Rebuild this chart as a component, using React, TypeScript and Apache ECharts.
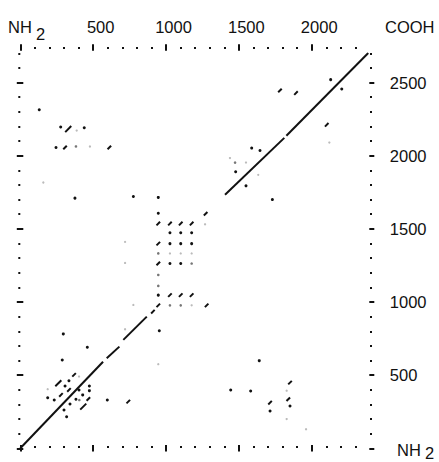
import { useEffect, useRef } from "react";
import * as echarts from "echarts";

// ---- axes / ticks ----
const X_MAX = 2400;
const Y_MAX = 2700;
const xMinorTicks = [0, 100, 200, 300, 400, 500, 600, 700, 800, 900, 1000, 1100, 1200, 1300, 1400, 1500, 1600, 1700, 1800, 1900, 2000, 2100, 2200, 2300];
const xMajorTicks = [0, 500, 1000, 1500, 2000];
const xTickLabels = [500, 1000, 1500, 2000];
const yMinorTicks = [0, 100, 200, 300, 400, 500, 600, 700, 800, 900, 1000, 1100, 1200, 1300, 1400, 1500, 1600, 1700, 1800, 1900, 2000, 2100, 2200, 2300, 2400, 2500, 2600, 2700];
const yMajorTicks = [0, 500, 1000, 1500, 2000, 2500];
const yTickLabels = [500, 1000, 1500, 2000, 2500];

// ---- main diagonal segments [x1, y1, x2, y2] ----
const diagonalSegments = [
  [0, 0, 568, 592],
  [593, 616, 680, 695],
  [707, 741, 868, 900],
  [1405, 1733, 1812, 2122],
  [1826, 2136, 2388, 2702],
];

// ---- short "/" dashes [x, y] ----
const dashes = [
  [910, 934], [947, 977],
  [947, 1536], [1027, 1536], [1101, 1536], [1176, 1536],
  [947, 1399], [947, 1263],
  [1027, 1047], [1101, 1047], [1176, 1047],
  [1272, 1603], [1279, 977], [2103, 2211], [1782, 2446], [1892, 2428],
  [307, 2056], [611, 2056],
  [369, 502], [279, 365], [334, 399], [467, 337], [741, 319],
  [1851, 449], [1714, 312], [1839, 335],
];

// ---- long "/" dashes [x, y] ----
const longDashes = [
  [329, 2182], [261, 445], [432, 285],
];

// ---- black dots [x, y] ----
const dots = [
  [947, 1715], [947, 1607],
  [1027, 1473], [1101, 1473], [1176, 1473],
  [1027, 1399], [1101, 1399], [1176, 1399],
  [1027, 1263], [1101, 1263], [947, 1047],
  [776, 1721], [375, 1710], [954, 804],
  [1549, 1794], [1730, 1700], [1588, 2052], [1645, 2036], [1478, 1890],
  [2130, 2520], [2206, 2456],
  [130, 2314], [277, 2196], [439, 2191], [245, 2056],
  [295, 782], [460, 691], [288, 604],
  [334, 462], [307, 426], [474, 426], [403, 399], [474, 394],
  [188, 346], [233, 330], [382, 335], [428, 365], [341, 303],
  [300, 262], [318, 216], [597, 330],
  [1640, 599], [1444, 399], [1581, 392], [1851, 289], [1714, 255],
];

// ---- medium grey dots [x, y] ----
const greyDots = [
  [947, 1185], [947, 1110], [947, 1332], [1027, 977], [1101, 977], [1176, 1263],
  [1474, 1953], [382, 2063], [405, 330],
];

// ---- faint dots [x, y] ----
const faintDots = [
  [1027, 1332], [1101, 1332], [1176, 1332], [1176, 977],
  [776, 980], [1268, 1531], [719, 1411], [719, 1267], [719, 814], [947, 575],
  [2121, 2090], [1439, 1984], [1549, 1953], [1633, 1869],
  [387, 2172], [478, 2063], [158, 1817], [188, 404], [403, 490],
  [1828, 394], [1828, 200], [1961, 130],
];

const FONT = "Liberation Sans, Arial, Helvetica, sans-serif";
const INK = "#111";

function tickAxis(
  kind: "x" | "y",
  position: string,
  offset: number,
  values: number[],
  length: number,
  labels?: number[],
  labelExtra?: any
) {
  return {
    type: "value",
    min: 0,
    max: kind === "x" ? X_MAX : Y_MAX,
    position,
    offset,
    axisLine: { show: false, onZero: false },
    splitLine: { show: false },
    axisTick: {
      show: true,
      customValues: values,
      length,
      lineStyle: { color: INK, width: 2 },
    },
    axisLabel: labels
      ? {
          show: true,
          customValues: labels,
          color: INK,
          fontSize: 16.5,
          fontFamily: FONT,
          formatter: (v: number) => String(v),
          ...labelExtra,
        }
      : { show: false },
  };
}

export default function App() {
  const ref = useRef<HTMLDivElement>(null);

  useEffect(() => {
    if (!ref.current) return;
    const chart = echarts.init(ref.current, null, { renderer: "svg" });

    const scatter = (data: number[][], color: string, size: any, extra: any = {}) => ({
      type: "scatter",
      data,
      symbolSize: size,
      itemStyle: { color, opacity: 1 },
      silent: true,
      ...extra,
    });

    const textEl = (text: string, x: number, y: number) => ({
      type: "text",
      x,
      y,
      style: {
        text,
        fill: INK,
        font: `16.5px ${FONT}`,
        align: "left",
        verticalAlign: "middle",
      },
    });

    chart.setOption({
      animation: false,
      backgroundColor: "#fff",
      grid: { left: 20.3, right: 69, top: 53.3, bottom: 13.7, containLabel: false },
      xAxis: [
        tickAxis("x", "bottom", -2.3, xMinorTicks, 2),
        tickAxis("x", "bottom", -3.3, xMajorTicks, 6.5),
        tickAxis("x", "top", 4.3, xMinorTicks, 2),
        tickAxis("x", "top", 2.6, xMajorTicks, 6.5, xTickLabels, { margin: 15, padding: [0, 0, 0, 15] }),
      ],
      yAxis: [
        tickAxis("y", "left", 0, yMinorTicks, 2),
        tickAxis("y", "left", -3, yMajorTicks, 6.5),
        tickAxis("y", "right", 0, yMinorTicks, 2),
        tickAxis("y", "right", -0.7, yMajorTicks, 5, yTickLabels, { margin: 20.5, padding: [0, 0, 6, 0] }),
      ],
      series: [
        {
          type: "lines",
          coordinateSystem: "cartesian2d",
          xAxisIndex: 0,
          yAxisIndex: 0,
          silent: true,
          lineStyle: { color: INK, width: 2, opacity: 1 },
          data: diagonalSegments.map((s) => ({ coords: [[s[0], s[1]], [s[2], s[3]]] })),
        },
        scatter(faintDots, "#bbb", 2.3),
        scatter(greyDots, "#777", 2.6),
        scatter(dots, INK, 3),
        scatter(dashes, INK, [5, 2], { symbol: "rect", symbolRotate: 45 }),
        scatter(longDashes, INK, [8.5, 2], { symbol: "rect", symbolRotate: 45 }),
      ],
      graphic: [
        textEl("NH", 8, 27),
        textEl("2", 36, 34),
        textEl("COOH", 385, 27),
        textEl("NH", 397, 450),
        textEl("2", 425, 452.5),
      ],
    });

    return () => chart.dispose();
  }, []);

  return (
    <div
      ref={ref}
      style={{ position: "absolute", left: 0, top: 0, width: 439, height: 462, background: "#fff" }}
    />
  );
}
